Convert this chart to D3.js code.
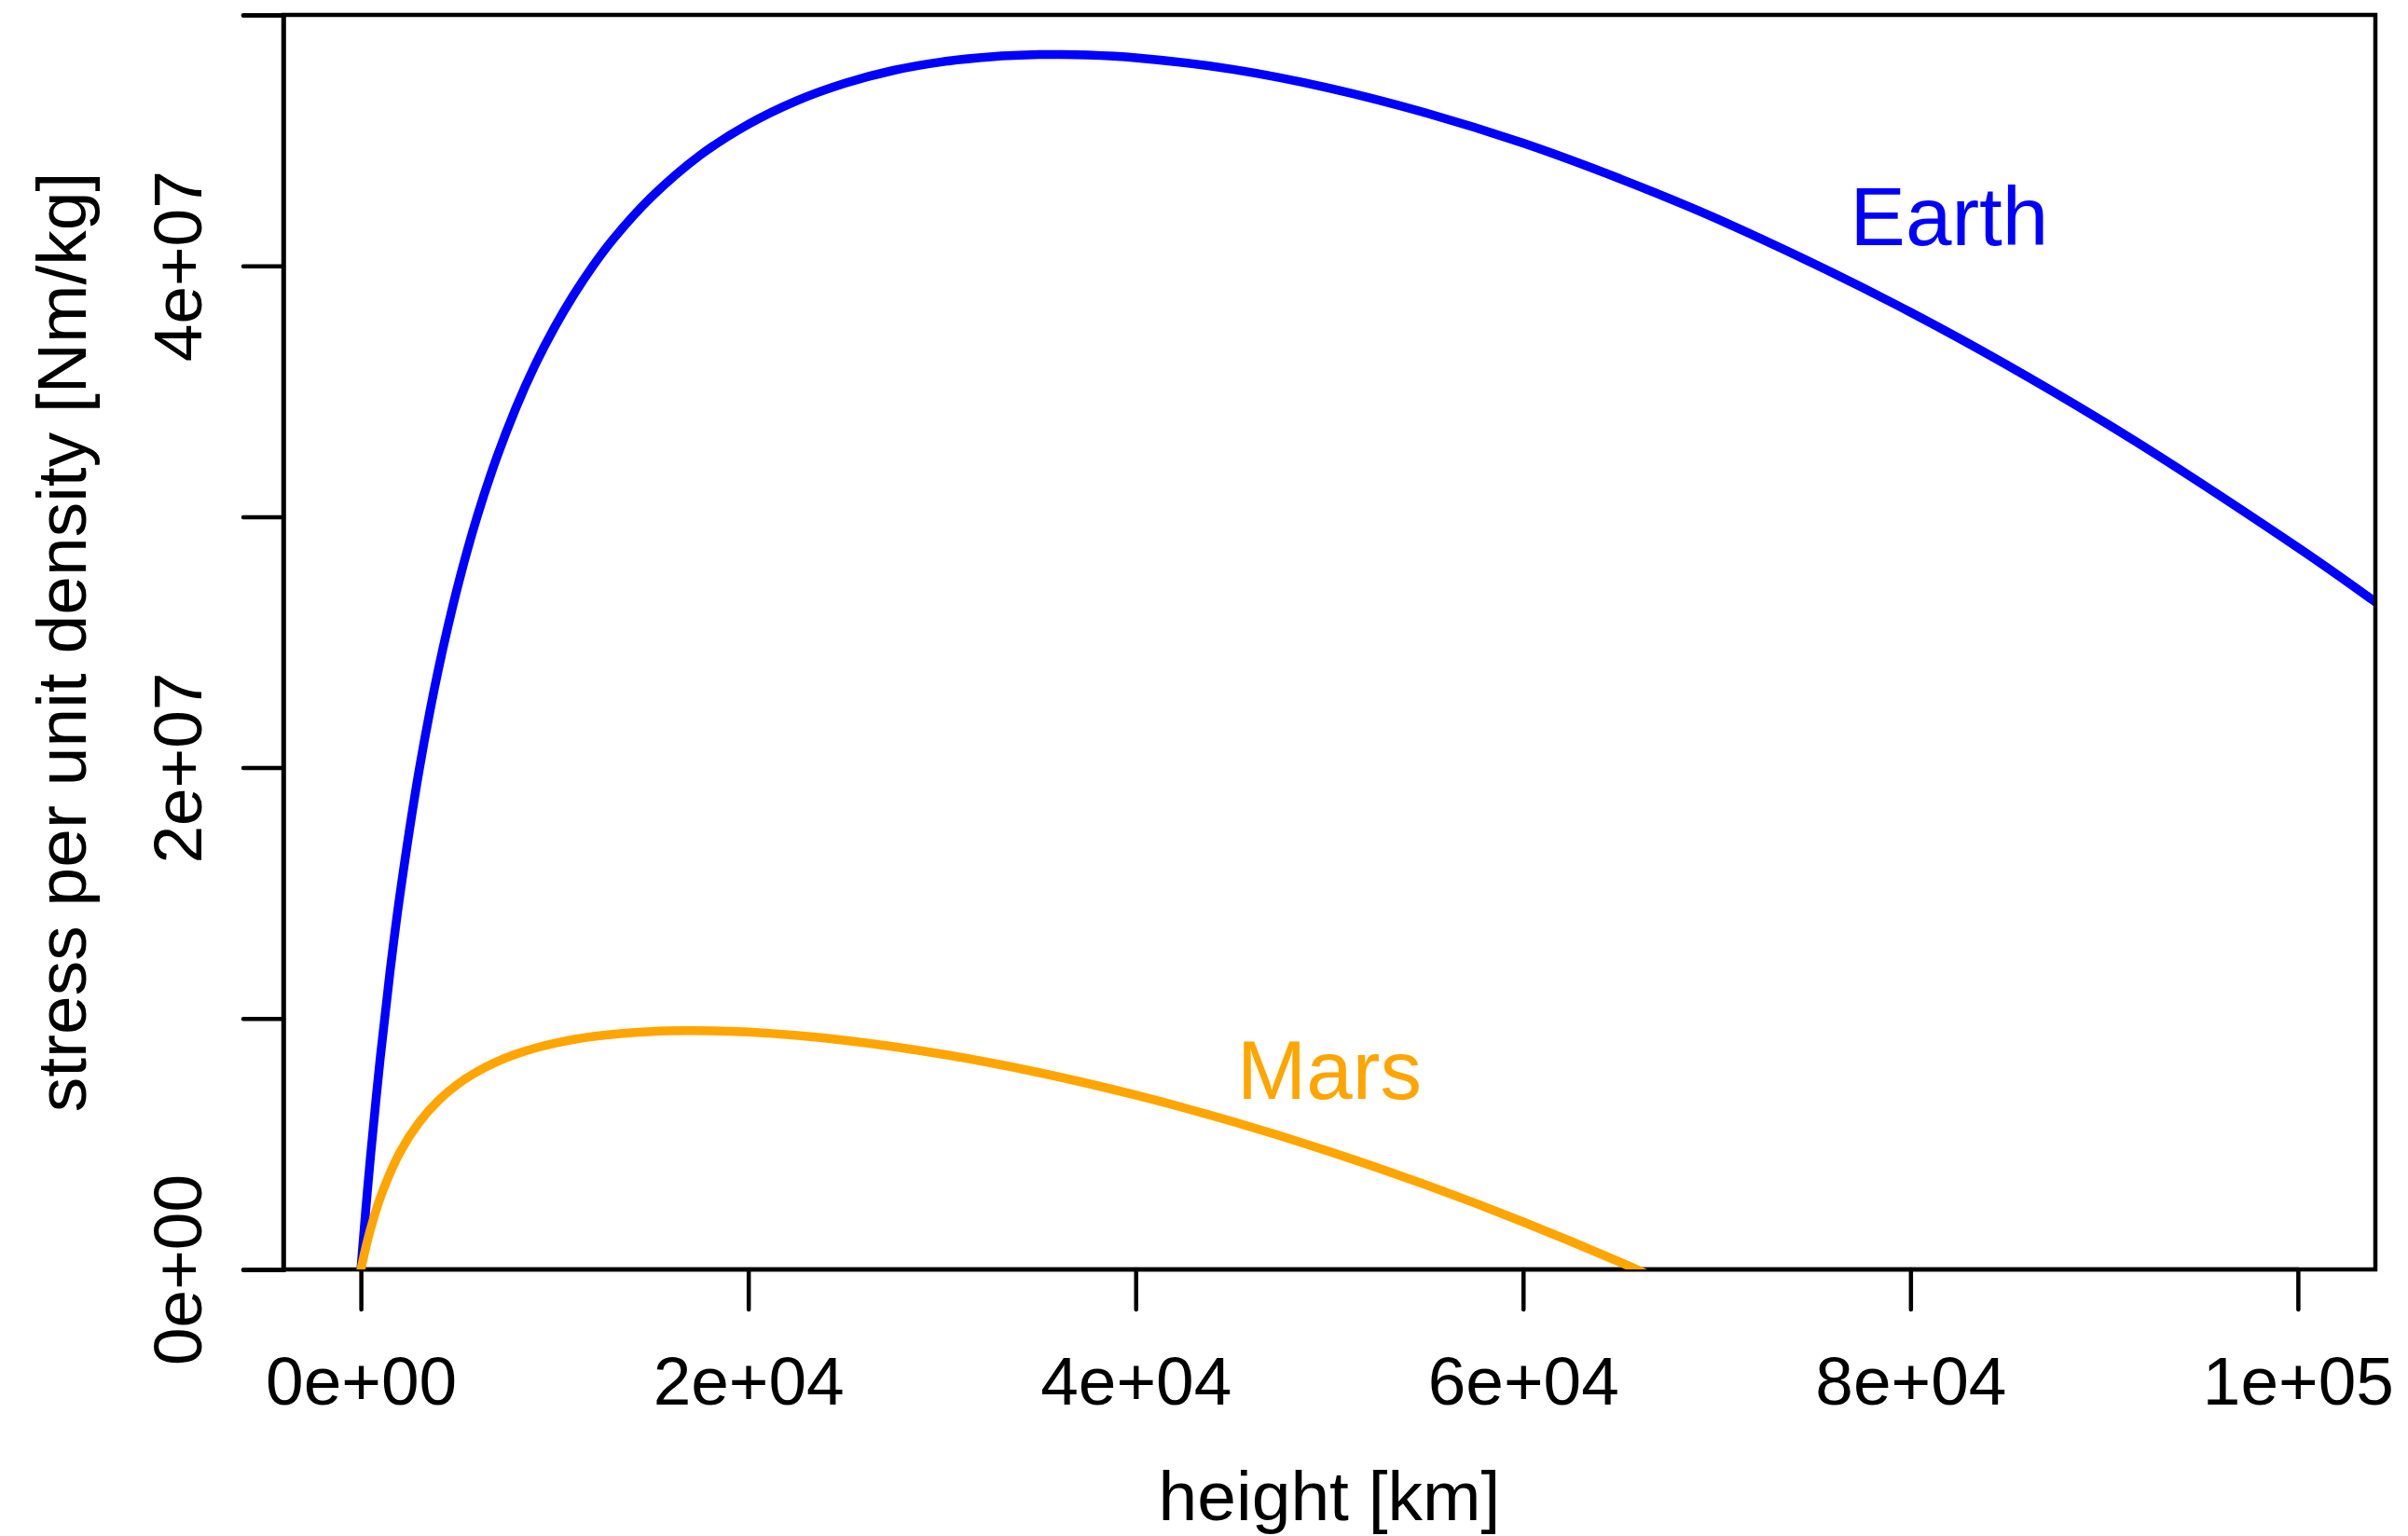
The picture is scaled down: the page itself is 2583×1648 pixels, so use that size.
<!DOCTYPE html>
<html>
<head>
<meta charset="utf-8">
<script src="https://cdn.jsdelivr.net/npm/d3@7"></script>
<style>
  body { margin: 0; background: #fff; }
  text { font-family: "Liberation Sans", Arial, Helvetica, sans-serif; }
</style>
</head>
<body>
<svg id="svg"></svg>
<script>
// heights in km, stress per unit density in Nm/kg
var heightEarth = [0, 250, 500, 1000, 1500, 2000, 3000, 4000, 5000, 6000, 7000, 8000, 9000, 10000, 11000, 12000,
  13000, 15000, 17500, 20000, 22500, 25000, 27500, 30000, 32500, 35000, 36000, 37500, 40000, 45000, 50000, 55000,
  60000, 65000, 70000, 80000, 90000, 100000, 104000];
var stressEarth = [0, 2.35e6, 4.53e6, 8.43e6, 1.184e7, 1.484e7, 1.987e7, 2.391e7, 2.723e7, 3.000e7, 3.233e7, 3.433e7,
  3.606e7, 3.755e7, 3.886e7, 4.002e7, 4.104e7, 4.274e7, 4.440e7, 4.564e7, 4.658e7, 4.728e7, 4.779e7, 4.813e7,
  4.833e7, 4.842e7, 4.842e7, 4.840e7, 4.829e7, 4.783e7, 4.708e7, 4.609e7, 4.489e7, 4.347e7, 4.188e7, 3.815e7,
  3.377e7, 2.877e7, 2.660e7];

var heightMars = [0, 250, 500, 1000, 2000, 3000, 4000, 5000, 6000, 7000, 8000, 9000, 10000, 12000, 15000, 17000,
  20000, 25000, 30000, 35000, 40000, 45000, 50000, 55000, 60000, 65000, 70000];
var stressMars = [0, 8.6e5, 1.615e6, 2.859e6, 4.645e6, 5.859e6, 6.731e6, 7.383e6, 7.882e6, 8.271e6, 8.578e6,
  8.822e6, 9.015e6, 9.287e6, 9.486e6, 9.520e6, 9.459e6, 9.131e6, 8.581e6, 7.847e6, 6.948e6, 5.897e6, 4.702e6,
  3.366e6, 1.895e6, 2.89e5, -1.45e6];

var xTicks = [0, 20000, 40000, 60000, 80000, 100000];
var xTickLabels = ["0e+00", "2e+04", "4e+04", "6e+04", "8e+04", "1e+05"];
var yTicks = [0, 1e7, 2e7, 3e7, 4e7, 5e7];
var yTickLabels = ["0e+00", "", "2e+07", "", "4e+07", ""];

var labels = [
  { name: "Earth", x: 82000, y: 4.2e7, color: "#0000ff" },
  { name: "Mars", x: 50000, y: 8e6, color: "#ffa500" }
];

var width = 2583, height = 1648;
var margin = { left: 304, right: 35, top: 16, bottom: 286 };
var lw = 4.5; // lwd 1
var fs = 73;  // cex 1
var tick = 43;

var svg = d3.select("#svg").attr("width", width).attr("height", height);
svg.append("rect").attr("width", width).attr("height", height).attr("fill", "#fff");

var x = d3.scaleLinear().domain([-4000, 104000]).range([margin.left, width - margin.right]);
var y = d3.scaleLinear().domain([0, 5e7]).range([height - margin.bottom, margin.top]);

svg.append("clipPath").attr("id", "plotclip")
  .append("rect")
  .attr("x", x.range()[0]).attr("y", y.range()[1])
  .attr("width", x.range()[1] - x.range()[0])
  .attr("height", y.range()[0] - y.range()[1]);

function drawcurve(hs, vs, colour) {
  var line = d3.line()
    .x(function(d) { return x(d[0]); })
    .y(function(d) { return y(d[1]); })
    .curve(d3.curveCatmullRom.alpha(0.5));
  svg.append("path")
    .datum(d3.zip(hs, vs))
    .attr("d", line)
    .attr("fill", "none")
    .attr("stroke", colour)
    .attr("stroke-width", 9.5)
    .attr("stroke-linecap", "round")
    .attr("stroke-linejoin", "round")
    .attr("clip-path", "url(#plotclip)");
}

drawcurve(heightEarth, stressEarth, "#0000ff");

// axes, R style
var xAxis = d3.axisBottom(x).tickValues(xTicks).tickSize(tick).tickPadding(0)
  .tickFormat(function(d, i) { return xTickLabels[i]; });
var gx = svg.append("g").attr("transform", "translate(0," + y(0) + ")").call(xAxis);
gx.select(".domain").attr("d", "M" + x(xTicks[0]) + ",0H" + x(xTicks[xTicks.length - 1]));

var yAxis = d3.axisLeft(y).tickValues(yTicks).tickSize(tick).tickPadding(0)
  .tickFormat(function(d, i) { return yTickLabels[i]; });
var gy = svg.append("g").attr("transform", "translate(" + x.range()[0] + ",0)").call(yAxis);

[gx, gy].forEach(function(g) {
  g.selectAll("path, line").attr("stroke", "#000").attr("stroke-width", lw).attr("stroke-linecap", "round");
  g.selectAll("text").attr("fill", "#000").style("font-size", fs + "px");
});
gx.selectAll("text").attr("y", 145).attr("dy", null);
gy.selectAll("text")
  .attr("x", null).attr("dy", null)
  .attr("text-anchor", "middle")
  .attr("transform", "translate(-88,0) rotate(-90)");

// box
svg.append("rect")
  .attr("x", x.range()[0]).attr("y", y.range()[1])
  .attr("width", x.range()[1] - x.range()[0])
  .attr("height", y.range()[0] - y.range()[1])
  .attr("fill", "none").attr("stroke", "#000").attr("stroke-width", lw);

drawcurve(heightMars, stressMars, "#ffa500");

labels.forEach(function(l) {
  svg.append("text")
    .attr("x", x(l.x)).attr("y", y(l.y))
    .attr("dy", "0.36em")
    .attr("text-anchor", "middle")
    .attr("fill", l.color)
    .style("font-size", "89px")
    .text(l.name);
});

// axis titles
svg.append("text")
  .attr("x", (x.range()[0] + x.range()[1]) / 2).attr("y", 1631)
  .attr("text-anchor", "middle").style("font-size", "75px")
  .text("height [km]");
svg.append("text")
  .attr("transform", "translate(92," + (y.range()[0] + y.range()[1]) / 2 + ") rotate(-90)")
  .attr("text-anchor", "middle").style("font-size", "75px")
  .text("stress per unit density [Nm/kg]");
</script>
</body>
</html>
